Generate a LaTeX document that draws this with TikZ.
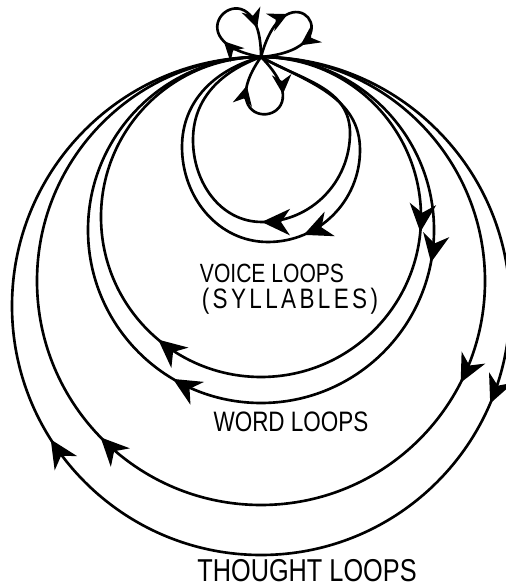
\documentclass[tikz,border=0pt]{standalone}
\usepackage{fontspec}
\newfontfamily\handfont[FakeStretch=0.8]{Liberation Sans}
\usetikzlibrary{arrows.meta,decorations.markings}

\begin{document}
\begin{tikzpicture}[
  x=0.02cm, y=0.02cm,
  loopline/.style={draw, line width=1.5pt, line cap=round},
  flow/.style={postaction={decorate, decoration={markings,
      mark=at position #1 with {\arrow{Stealth[length=16pt, width=15pt, inset=5pt]}}}}},
  petalflow/.style={postaction={decorate, decoration={markings,
      mark=at position #1 with {\arrow{Stealth[length=11pt, width=11pt, inset=3.5pt]}}}}},
  loopname/.style={inner sep=0pt, font=\handfont\fontsize{15}{17}\selectfont},
]
  \useasboundingbox (0, 0) rectangle (506, 587);
  \coordinate (hub) at (261, 530);

  % small petals round the hub
  \draw[loopline, petalflow=0.28, petalflow=0.8]
    (hub) .. controls +(170:100) and +(90:100) .. (hub);
  \draw[loopline, petalflow=0.35, petalflow=0.72]
    (hub) .. controls +(75:100) and +(5:100) .. (hub);
  \draw[loopline, petalflow=0.3, petalflow=0.78]
    (hub) .. controls +(-45:100) and +(-125:100) .. (hub);

  % voice loops
  \draw[loopline, flow=0.53]
    (hub) to[out=-30, in=90] (350, 454) to[out=-90, in=0] (262, 365)
    to[out=180, in=-90] (193, 447) to[out=90, in=200] (hub);
  \draw[loopline, flow=0.45]
    (hub) to[out=-28, in=90] (360, 437) to[out=-90, in=0] (268, 345)
    to[out=180, in=-90] (182, 440) to[out=90, in=195] (hub);
  \node[loopname] (voice) at (272, 314) {VOICE LOOPS};
  \node[loopname, font=\handfont\fontsize{16}{18}\selectfont\addfontfeature{LetterSpace=12}]
    (syllables) at (290, 286) {(SYLLABLES)};

  % word loops
  \draw[loopline, flow=0.265, flow=0.611]
    (hub) arc[start angle=90, end angle=-270, radius=160];
  \draw[loopline, flow=0.28, flow=0.585]
    (hub) arc[start angle=90, end angle=-270, radius=173];
  \node[loopname, font=\handfont\fontsize{16}{18}\selectfont] (word) at (291, 165) {WORD LOOPS};

  % thought loops
  \draw[loopline, flow=0.325, flow=0.627]
    (hub) arc[start angle=90, end angle=-270, radius=224];
  \draw[loopline, flow=0.314, flow=0.66]
    (hub) arc[start angle=90, end angle=-270, radius=249];
  \node[loopname, font=\handfont\fontsize{18}{20}\selectfont] (thought) at (307, 16) {THOUGHT LOOPS};

\end{tikzpicture}
\end{document}
